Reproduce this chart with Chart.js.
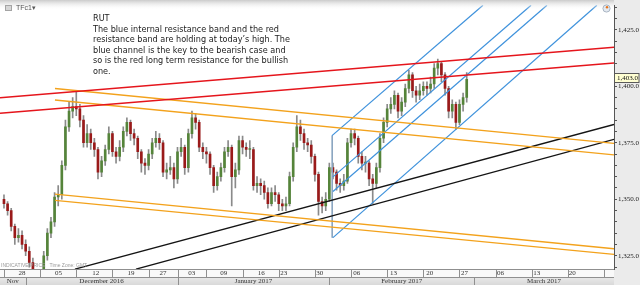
<!DOCTYPE html>
<html><head><meta charset="utf-8">
<script src="https://cdn.jsdelivr.net/npm/chart.js@4.4.1/dist/chart.umd.min.js"></script>
<style>html,body{margin:0;padding:0;background:#fff;overflow:hidden}canvas{display:block}</style>
</head><body>
<canvas id="c" width="640" height="285"></canvas>
<script>
// ---- price data: half-day candles (open = previous close) ----
const firstOpen = 1350;
const closes = [1348,1345,1338,1333,1334,1330,1327,1322,1318,1314,1316,1325,1335,1340,1351,1352,1365,1382,1389,1391,
1390,1385,1375,1379,1375,1372,1362,1367,1372,1379,1371,1369,1373,1380,1384,1379,1377,1371,1366,1365,
1370,1375,1377,1375,1362,1363,1364,1359,1371,1373,1364,1379,1386,1384,1373,1371,1370,1364,1356,1360,
1364,1371,1373,1360,1363,1376,1373,1372,1372,1356,1357,1356,1353,1348,1353,1352,1348,1347,1348,1360,
1373,1382,1379,1375,1374,1369,1361,1349,1347,1350,1364,1362,1357,1356,1358,1375,1379,1377,1369,1366,
1366,1359,1357,1364,1377,1384,1390,1392,1396,1389,1393,1399,1405,1398,1396,1398,1400,1399,1401,1408,
1410,1405,1399,1389,1392,1384,1392,1395,1403];
const highs = [1352,1349,1346,1339,1337,1336,1332,1329,1324,1319,1319,1327,1337,1342,1353,1356,1367,1385,1393,1395,
1398,1392,1387,1383,1381,1377,1373,1369,1374,1382,1380,1373,1376,1382,1386,1385,1381,1378,1372,1368,
1372,1377,1380,1379,1376,1366,1369,1366,1373,1377,1374,1381,1389,1388,1385,1375,1373,1371,1365,1362,
1366,1373,1376,1374,1366,1378,1378,1375,1376,1373,1360,1359,1358,1355,1355,1356,1353,1350,1351,1362,
1375,1387,1385,1381,1377,1376,1370,1362,1351,1353,1366,1366,1363,1359,1361,1377,1381,1381,1378,1371,
1369,1367,1361,1366,1379,1386,1392,1395,1398,1397,1395,1401,1407,1406,1400,1401,1402,1402,1404,1410,
1412,1411,1406,1400,1394,1393,1394,1397,1406];
const lows = [1346,1343,1336,1330,1331,1328,1325,1320,1315,1311,1312,1314,1323,1333,1338,1347,1350,1363,1380,1386,
1387,1382,1373,1373,1372,1369,1359,1360,1365,1370,1369,1366,1367,1371,1378,1376,1374,1368,1362,1361,
1363,1368,1373,1372,1360,1359,1361,1355,1357,1369,1361,1362,1377,1381,1371,1368,1366,1361,1353,1354,
1358,1362,1369,1347,1355,1361,1370,1369,1368,1354,1353,1352,1350,1346,1347,1349,1345,1345,1345,1347,
1358,1371,1376,1372,1371,1366,1358,1343,1344,1345,1349,1359,1354,1353,1354,1357,1373,1374,1366,1363,
1362,1356,1348,1355,1362,1375,1382,1388,1390,1386,1387,1391,1397,1395,1393,1394,1396,1396,1397,1399,
1405,1402,1396,1386,1386,1381,1383,1389,1393];
const sessionsPerDay = 2;

// ---- axes (x in trading days from 28 Nov 2016) ----
const xRange = [-0.55, 84.37];
const yRange = [1319.14, 1435.85];
const yLabelValues = [1325, 1350, 1375, 1400, 1425];
const weekStarts = [0,5,10,15,20,24,28,33,38,43,48,53,58,63,68,73,78,83];
const dayLabels = ["28","05","12","19","27","03","09","16","23","30","06","13","20","27","06","13","20"];
const dayLabelAt = [2.0,7.05,12.2,17.1,21.5,25.5,29.9,35.1,38.2,43.2,48.3,53.4,58.4,63.2,68.2,73.2,78.1];
const monthStarts = [3,24,45,65];
const monthLabels = ["Nov","December 2016","January 2017","February 2017","March 2017"];

// ---- trend lines (trading day, price) ----
const redUpperX = [-0.55, 84.37], redUpperY = [1394.85, 1417.3];
const redLowerX = [-0.55, 84.37], redLowerY = [1388.1, 1410.25];
const orange1X = [7.05, 84.37], orange1Y = [1399.0, 1374.7];
const orange2X = [7.05, 84.37], orange2Y = [1393.9, 1369.6];
const orange3X = [7.05, 84.37], orange3Y = [1352.25, 1328.1];
const orange4X = [7.05, 84.37], orange4Y = [1349.5, 1325.65];
const black1X = [9.82, 84.37], black1Y = [1319.1, 1383.05];
const black2X = [18.26, 84.37], black2Y = [1319.1, 1376.5];
const blueAX = [45.37, 66.25], blueAY = [1378.15, 1435.85];
const blueBX = [45.5, 72.9], blueBY = [1359.9, 1435.85];
const blueCX = [45.5, 75.1], blueCY = [1353.4, 1435.85];
const blueDX = [45.5, 82.0], blueDY = [1333.0, 1435.85];
const blueStemX = [45.4, 45.4], blueStemY = [1378.15, 1333.0];

const noteLines = ["RUT",
 "The blue internal resistance band and the red",
 "resistance band are holding at today\u2019s high. The",
 "blue channel is the key to the bearish case and",
 "so is the red long term resistance for the bullish",
 "one."];

// ---- build ----
const opens = closes.map((c, i) => i === 0 ? firstOpen : closes[i - 1]);
const candleX = closes.map((_, i) => i / sessionsPerDay);
const wickData = candleX.map((x, i) => ({x, y: [lows[i], highs[i]]}));
const bodyData = candleX.map((x, i) => ({x, y: [opens[i], closes[i]]}));
const seg = (xs, ys) => xs.map((x, i) => ({x, y: ys[i]}));
function lineDs(xs, ys, color, w) {
  return {type: 'line', data: seg(xs, ys), borderColor: color, borderWidth: w,
    pointRadius: 0, tension: 0, fill: false, order: 1};
}
const RED = '#e5151c', ORANGE = '#f3a21c', BLACK = '#141414', BLUE = '#3f92dc';
const fmt = v => v.toLocaleString('en-US', {minimumFractionDigits: 1, maximumFractionDigits: 1});

const decor = {
  id: 'decor',
  beforeDraw(chart) {
    const {ctx, chartArea: a, width, height} = chart;
    ctx.save();
    ctx.fillStyle = '#ffffff'; ctx.fillRect(0, 0, width, height);
    ctx.fillStyle = '#ebebeb'; ctx.fillRect(a.right, 0, width - a.right, height);
    ctx.restore();
  },
  afterDraw(chart) {
    const {ctx, chartArea: a, width, height} = chart;
    const xs = chart.scales.x, ys = chart.scales.y;
    ctx.save();
    // top gradient band
    const g = ctx.createLinearGradient(0, 0, 0, 10);
    g.addColorStop(0, 'rgba(200,200,200,0.95)');
    g.addColorStop(1, 'rgba(255,255,255,0)');
    ctx.fillStyle = g; ctx.fillRect(0, 0, a.right, 10);
    // header
    ctx.fillStyle = '#a4a4a4'; ctx.fillRect(5, 5, 7, 6);
    ctx.fillStyle = '#d6d6d6'; ctx.fillRect(6, 6, 5, 4);
    ctx.fillStyle = '#555'; ctx.font = '7px "Liberation Sans"';
    ctx.textBaseline = 'middle'; ctx.textAlign = 'left';
    ctx.fillText('TFc1', 16, 8.5);
    ctx.fillText('\u25BE', 32, 8.5);
    // clock icon
    ctx.beginPath(); ctx.arc(606.5, 8.5, 3.6, 0, Math.PI * 2);
    ctx.fillStyle = '#e3e9f0'; ctx.fill(); ctx.strokeStyle = '#98a6b6'; ctx.lineWidth = 0.8; ctx.stroke();
    ctx.beginPath(); ctx.arc(607, 7.3, 1.2, 0, Math.PI * 2); ctx.fillStyle = '#e8731a'; ctx.fill();
    // annotation
    ctx.font = '8px "DejaVu Sans"';
    const w = ctx.measureText(noteLines[1]).width;
    const fs = 8 * 186 / w;
    ctx.font = fs.toFixed(2) + 'px "DejaVu Sans"';
    ctx.fillStyle = '#1b1b1b'; ctx.textBaseline = 'middle';
    noteLines.forEach((t, i) => ctx.fillText(t, 93, 19.3 + i * 10.5));
    // indicative price
    ctx.font = '5px "Liberation Sans"'; ctx.fillStyle = '#9a9a9a';
    ctx.fillText('INDICATIVE PRICE   Time Zone: GMT', 1, a.bottom - 3);
    // x axis rows
    const top = a.bottom, mid = a.bottom + 8, bot = height;
    ctx.fillStyle = '#f9f9f9'; ctx.fillRect(0, top, a.right, mid - top);
    const g2 = ctx.createLinearGradient(0, mid, 0, bot);
    g2.addColorStop(0, '#e9e9e9'); g2.addColorStop(1, '#d9d9d9');
    ctx.fillStyle = g2; ctx.fillRect(0, mid, a.right, bot - mid);
    ctx.strokeStyle = '#8f8f8f'; ctx.lineWidth = 1;
    ctx.beginPath();
    ctx.moveTo(0, top + 0.5); ctx.lineTo(a.right, top + 0.5);
    ctx.moveTo(0, mid + 0.5); ctx.lineTo(a.right, mid + 0.5);
    weekStarts.forEach(d => {
      const x = Math.round(xs.getPixelForValue(d)) + 0.5;
      if (x >= a.left && x <= a.right) { ctx.moveTo(x, top); ctx.lineTo(x, mid); }
    });
    monthStarts.forEach(d => {
      const x = Math.round(xs.getPixelForValue(d)) + 0.5;
      ctx.moveTo(x, mid); ctx.lineTo(x, bot);
    });
    ctx.stroke();
    ctx.fillStyle = '#333'; ctx.font = '7px "Liberation Serif"';
    ctx.textAlign = 'left'; ctx.textBaseline = 'middle';
    dayLabels.forEach((t, k) => ctx.fillText(t, xs.getPixelForValue(dayLabelAt[k]), top + 4.6));
    const bounds = [a.left, ...monthStarts.map(d => xs.getPixelForValue(d)), a.right];
    ctx.textAlign = 'center';
    monthLabels.forEach((t, k) => ctx.fillText(t, (bounds[k] + bounds[k + 1]) / 2, mid + 4.6));
    // last price tag
    const last = closes[closes.length - 1];
    const py = Math.round(ys.getPixelForValue(last)) - 1;
    ctx.fillStyle = '#ffffd2'; ctx.fillRect(a.right + 0.5, py - 4.5, width - a.right - 1.5, 9);
    ctx.strokeStyle = '#5a5a5a'; ctx.strokeRect(a.right + 0.5, py - 4.5, width - a.right - 1.5, 9);
    ctx.fillStyle = '#111'; ctx.textAlign = 'left'; ctx.font = '7px "Liberation Serif"';
    ctx.fillText(fmt(last), a.right + 3, py + 0.5);
    ctx.restore();
  }
};

new Chart(document.getElementById('c'), {
  type: 'bar',
  data: {datasets: [
    {type: 'bar', data: wickData, backgroundColor: '#8a8a8a', barThickness: 1, grouped: false, order: 3, borderWidth: 0},
    {type: 'bar', data: bodyData, barThickness: 2, grouped: false, order: 2, minBarLength: 1, borderWidth: 0,
     backgroundColor: c => closes[c.dataIndex] >= opens[c.dataIndex] ? '#55843a' : '#9a1a1a'},
    lineDs(redUpperX, redUpperY, RED, 1.5),
    lineDs(redLowerX, redLowerY, RED, 1.5),
    lineDs(orange1X, orange1Y, ORANGE, 1.3),
    lineDs(orange2X, orange2Y, ORANGE, 1.3),
    lineDs(orange3X, orange3Y, ORANGE, 1.3),
    lineDs(orange4X, orange4Y, ORANGE, 1.3),
    lineDs(black1X, black1Y, BLACK, 1.4),
    lineDs(black2X, black2Y, BLACK, 1.4),
    lineDs(blueAX, blueAY, BLUE, 1.2),
    lineDs(blueBX, blueBY, BLUE, 1.2),
    lineDs(blueCX, blueCY, BLUE, 1.2),
    lineDs(blueDX, blueDY, BLUE, 1.2),
    lineDs(blueStemX, blueStemY, '#8aa4c0', 1)
  ]},
  options: {
    responsive: false, animation: false, devicePixelRatio: 1, events: [],
    layout: {padding: 0},
    plugins: {legend: {display: false}, tooltip: {enabled: false}, title: {display: false}},
    scales: {
      x: {type: 'linear', min: xRange[0], max: xRange[1], offset: false,
          grid: {display: false}, border: {display: false}, ticks: {display: false},
          afterFit: s => { s.height = 16; }},
      y: {type: 'linear', position: 'right', min: yRange[0], max: yRange[1],
          grid: {display: true, drawOnChartArea: false, drawTicks: true, tickLength: 3, color: '#555'},
          border: {display: true, color: '#555'},
          afterBuildTicks: s => { const t = []; for (let v = 1320; v <= 1435; v += 5) t.push({value: v}); s.ticks = t; },
          ticks: {padding: 1, color: '#222', font: {family: 'Liberation Serif', size: 7},
                  autoSkip: false, maxRotation: 0,
                  callback: v => yLabelValues.includes(v) ? fmt(v) : ''},
          afterFit: s => { s.width = 26; }}
    }
  },
  plugins: [decor]
});
</script>
</body></html>
